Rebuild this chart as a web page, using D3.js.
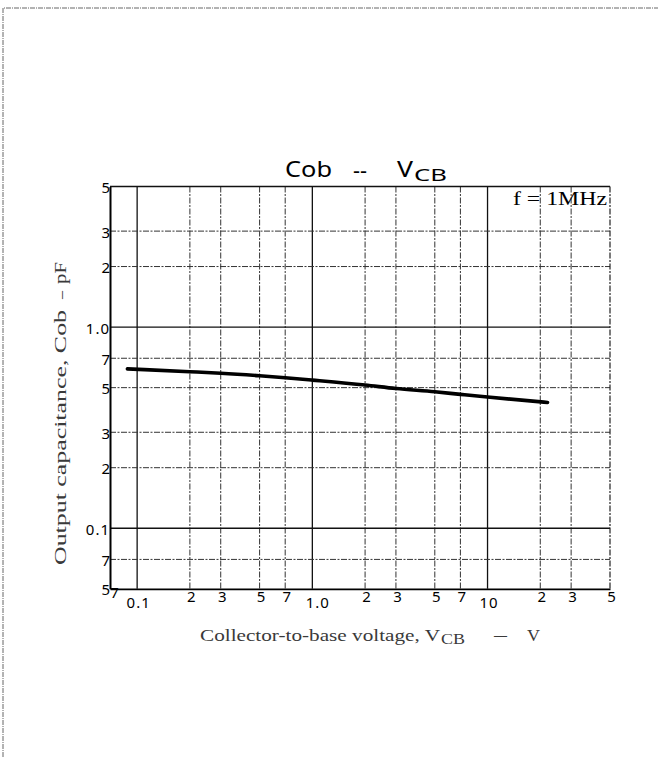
<!DOCTYPE html>
<html><head><meta charset="utf-8">
<script src="https://cdn.jsdelivr.net/npm/d3@7"></script>
<style>body{margin:0;background:#fff} svg{display:block}</style>
</head><body>
<script>
// Data
const vcb = [0.088, 0.2, 0.3, 0.5, 0.7, 1.0, 2, 3, 5, 7, 10, 22];
const cob = [0.62, 0.60, 0.59, 0.573, 0.56, 0.545, 0.515, 0.495, 0.477, 0.463, 0.449, 0.422];
const xTickValues = [0.07, 0.1, 0.2, 0.3, 0.5, 0.7, 1, 2, 3, 5, 7, 10, 20, 30, 50];
const xTickLabels = ["7", "0.1", "2", "3", "5", "7", "1.0", "2", "3", "5", "7", "10", "2", "3", "5"];
const yTickValues = [0.05, 0.07, 0.1, 0.2, 0.3, 0.5, 0.7, 1, 2, 3, 5];
const yTickLabels = ["5", "7", "0.1", "2", "3", "5", "7", "1.0", "2", "3", "5"];
const xMajor = [0.1, 1, 10];
const yMajor = [0.1, 1];

const W = 658, H = 757;
const svg = d3.select("body").append("svg").attr("width", W).attr("height", H);

// page frame (scan edge)
svg.append("path").attr("d", `M3,${H} V8 H${W}`)
  .attr("fill", "none").attr("stroke", "#666").attr("stroke-width", 1).attr("stroke-dasharray", "5,1,1,1");

const x = d3.scaleLog().domain([0.07, 50]).range([110, 610]);
const y = d3.scaleLog().domain([0.05, 5]).range([588.8, 186.5]);

const g = svg.append("g");

// grid
const xInner = xTickValues.filter(v => v > 0.07 && v < 50);
const yInner = yTickValues.filter(v => v > 0.05 && v < 5);
g.selectAll("line.vg").data(xInner).join("line")
  .attr("x1", d => x(d)).attr("x2", d => x(d))
  .attr("y1", y(5)).attr("y2", y(0.05))
  .attr("stroke", d => xMajor.includes(d) ? "#111" : "#333")
  .attr("stroke-width", d => xMajor.includes(d) ? 1.3 : 1)
  .attr("stroke-dasharray", d => xMajor.includes(d) ? null : "6,1.5,2,1.5");
g.selectAll("line.hg").data(yInner).join("line")
  .attr("y1", d => y(d)).attr("y2", d => y(d))
  .attr("x1", x(0.07)).attr("x2", x(50))
  .attr("stroke", d => yMajor.includes(d) ? "#111" : "#333")
  .attr("stroke-width", d => yMajor.includes(d) ? 1.3 : 1)
  .attr("stroke-dasharray", d => yMajor.includes(d) ? null : "6,1.5,2,1.5");

// frame of plot
g.append("line").attr("x1", x(0.07)).attr("x2", x(50)).attr("y1", y(5)).attr("y2", y(5))
  .attr("stroke", "#111").attr("stroke-width", 1.5);
g.append("line").attr("x1", x(50)).attr("x2", x(50)).attr("y1", y(5)).attr("y2", y(0.05))
  .attr("stroke", "#222").attr("stroke-width", 1.2).attr("stroke-dasharray", "6,1.5,2,1.5");

// axes
const xAxis = d3.axisBottom(x).tickValues(xTickValues)
  .tickFormat((d, i) => xTickLabels[i]).tickSize(0).tickPadding(5);
const gx = svg.append("g").attr("transform", `translate(0,${y(0.05)})`).call(xAxis);
gx.select(".domain").attr("stroke", "#000").attr("stroke-width", 1.8);
gx.selectAll("text").attr("font-family", "'Noto Sans', sans-serif").attr("font-size", 15)
  .attr("fill", "#000")
  .attr("letter-spacing", (d, i) => xTickLabels[i].length > 1 ? 1 : 0)
  .attr("dy", (d, i) => ["0.1", "1.0", "10"].includes(xTickLabels[i]) ? "0.95em" : (i === 0 ? "0.3em" : "0.55em"))
  .attr("dx", (d, i) => xTickLabels[i] === "1.0" ? 5 : (i === 0 ? 4 : 1));

const yAxis = d3.axisLeft(y).tickValues(yTickValues)
  .tickFormat((d, i) => yTickLabels[i]).tickSize(0).tickPadding(0);
const gy = svg.append("g").attr("transform", `translate(${x(0.07)},0)`).call(yAxis);
gy.select(".domain").attr("stroke", "#000").attr("stroke-width", 2);
gy.selectAll("text").attr("font-family", "'Noto Sans', sans-serif").attr("font-size", 15)
  .attr("fill", "#000").attr("letter-spacing", (d, i) => yTickLabels[i].length > 1 ? 1 : 0)
  .attr("dy", "0.4em");

// curve
const line = d3.line().x((d, i) => x(vcb[i])).y(d => y(d)).curve(d3.curveMonotoneX);
svg.append("path").datum(cob).attr("d", line)
  .attr("fill", "none").attr("stroke", "#000").attr("stroke-width", 3.6).attr("stroke-linecap", "round");

// title
const tf = "'Noto Sans', sans-serif";
svg.append("text").attr("x", 285).attr("y", 177).attr("font-family", tf).attr("font-size", 21)
  .attr("textLength", 47).attr("lengthAdjust", "spacingAndGlyphs").text("Cob");
svg.append("text").attr("x", 353).attr("y", 178).attr("font-family", tf).attr("font-size", 21)
  .attr("textLength", 14).attr("lengthAdjust", "spacingAndGlyphs").text("--");
svg.append("text").attr("x", 397).attr("y", 177).attr("font-family", tf).attr("font-size", 21)
  .attr("textLength", 16).attr("lengthAdjust", "spacingAndGlyphs").text("V");
svg.append("text").attr("x", 414).attr("y", 181).attr("font-family", tf).attr("font-size", 17)
  .attr("textLength", 33).attr("lengthAdjust", "spacingAndGlyphs").text("CB");

// annotation
svg.append("text").attr("x", 513).attr("y", 205)
  .attr("font-family", "'Liberation Serif', serif").attr("font-size", 19).attr("fill", "#000")
  .attr("textLength", 94).attr("lengthAdjust", "spacingAndGlyphs")
  .text("f = 1MHz");

// x label
const sf = "'Liberation Serif', serif";
const lc = "#3a3a3a";
svg.append("text").attr("x", 200).attr("y", 641).attr("font-family", sf).attr("font-size", 17).attr("fill", lc)
  .attr("textLength", 240).attr("lengthAdjust", "spacingAndGlyphs").text("Collector-to-base voltage, V");
svg.append("text").attr("x", 441).attr("y", 644).attr("font-family", sf).attr("font-size", 14).attr("fill", lc)
  .attr("textLength", 24).attr("lengthAdjust", "spacingAndGlyphs").text("CB");
svg.append("text").attr("x", 494).attr("y", 640).attr("font-family", sf).attr("font-size", 17).attr("fill", lc)
  .attr("textLength", 13).attr("lengthAdjust", "spacingAndGlyphs").text("—");
svg.append("text").attr("x", 527).attr("y", 641).attr("font-family", sf).attr("font-size", 17).attr("fill", lc)
  .attr("textLength", 13).attr("lengthAdjust", "spacingAndGlyphs").text("V");

// y label
const yl = svg.append("g").attr("transform", "translate(66,565) rotate(-90)")
  .attr("font-family", sf).attr("font-size", 17).attr("fill", lc);
yl.append("text").attr("x", 0).attr("y", 0)
  .attr("textLength", 255).attr("lengthAdjust", "spacingAndGlyphs").text("Output capacitance, Cob");
yl.append("text").attr("x", 266).attr("y", 0)
  .attr("textLength", 8).attr("lengthAdjust", "spacingAndGlyphs").text("–");
yl.append("text").attr("x", 281).attr("y", 0)
  .attr("textLength", 22).attr("lengthAdjust", "spacingAndGlyphs").text("pF");
</script>
</body></html>
